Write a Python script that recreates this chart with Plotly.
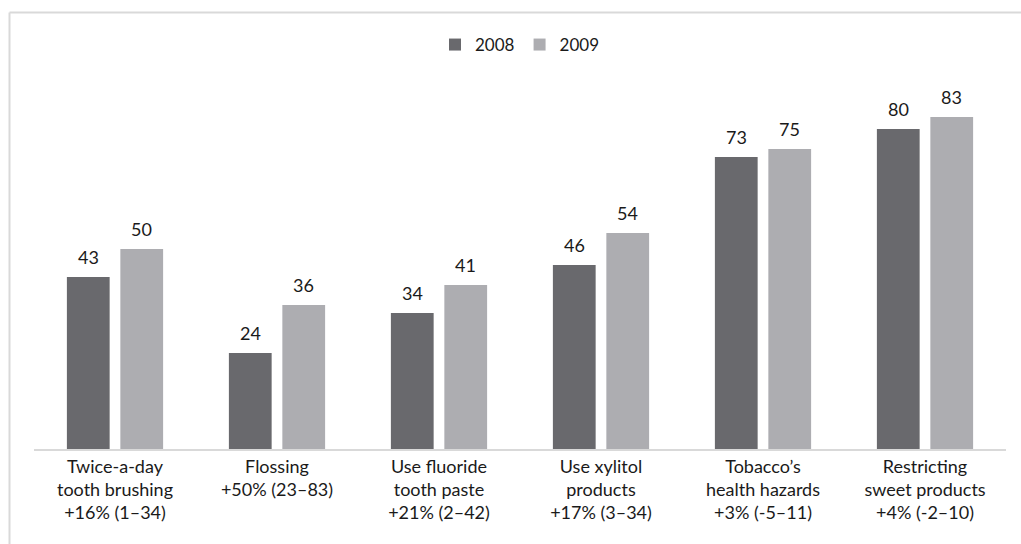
import plotly.graph_objects as go

categories = [
    "Twice-a-day<br>tooth brushing<br>+16% (1–34)",
    "Flossing<br>+50% (23–83)",
    "Use fluoride<br>tooth paste<br>+21% (2–42)",
    "Use xylitol<br>products<br>+17% (3–34)",
    "Tobacco’s<br>health hazards<br>+3% (-5–11)",
    "Restricting<br>sweet products<br>+4% (-2–10)",
]
values_2008 = [43, 24, 34, 46, 73, 80]
values_2009 = [50, 36, 41, 54, 75, 83]
series_names = ["2008", "2009"]

FONT = "Lato, 'Open Sans', sans-serif"
TXT = "#1a1a1a"
FS = 18

L, R, T, B = 34, 15, 89, 95
W, H = 1021, 544
pw, ph = W - L - R, H - T - B

def px_x(px):
    return (px - L) / pw

def px_y(py):
    return (H - B - py) / ph

fig = go.Figure()
fig.add_trace(go.Bar(
    name=series_names[0], x=categories, y=values_2008,
    marker=dict(color="#69696d", line=dict(width=0)),
))
fig.add_trace(go.Bar(
    name=series_names[1], x=categories, y=values_2009,
    marker=dict(color="#adadb1", line=dict(width=0)),
))

bargap, bargroupgap = 0.34, 0.2
cat_w = pw / len(categories)
slot = cat_w * (1 - bargap) / 2
annotations = []
for vals, sgn in ((values_2008, -1), (values_2009, 1)):
    for c, v in zip(categories, vals):
        annotations.append(dict(
            x=c, y=v, xref="x", yref="y", text=str(v), showarrow=False,
            xshift=sgn * slot / 2, yshift=7, yanchor="bottom",
            font=dict(family=FONT, size=FS, color=TXT),
        ))

fig.update_layout(
    width=W, height=H,
    margin=dict(l=L, r=R, t=T, b=B),
    paper_bgcolor="white", plot_bgcolor="white",
    barmode="group", bargap=bargap, bargroupgap=bargroupgap,
    font=dict(family=FONT, size=FS, color=TXT),
    showlegend=True,
    legend=dict(
        orientation="h", x=0.5, xanchor="center",
        y=px_y(45), yanchor="middle",
        font=dict(family=FONT, size=17, color=TXT),
        itemwidth=30, traceorder="normal",
    ),
    xaxis=dict(
        showline=True, linecolor="#d9d9d9", linewidth=2,
        ticks="", showgrid=False, zeroline=False,
        tickfont=dict(family=FONT, size=FS, color=TXT),
    ),
    yaxis=dict(range=[0, 90], visible=False, showgrid=False, zeroline=False),
    annotations=annotations,
    shapes=[
        dict(type="line", xref="paper", yref="paper",
             x0=px_x(9.5), x1=px_x(1030), y0=px_y(12.5), y1=px_y(12.5),
             line=dict(color="#d9d9d9", width=2)),
        dict(type="line", xref="paper", yref="paper",
             x0=px_x(9.5), x1=px_x(9.5), y0=px_y(12.5), y1=px_y(560),
             line=dict(color="#d9d9d9", width=2)),
    ],
)

fig.write_html("out.html")
